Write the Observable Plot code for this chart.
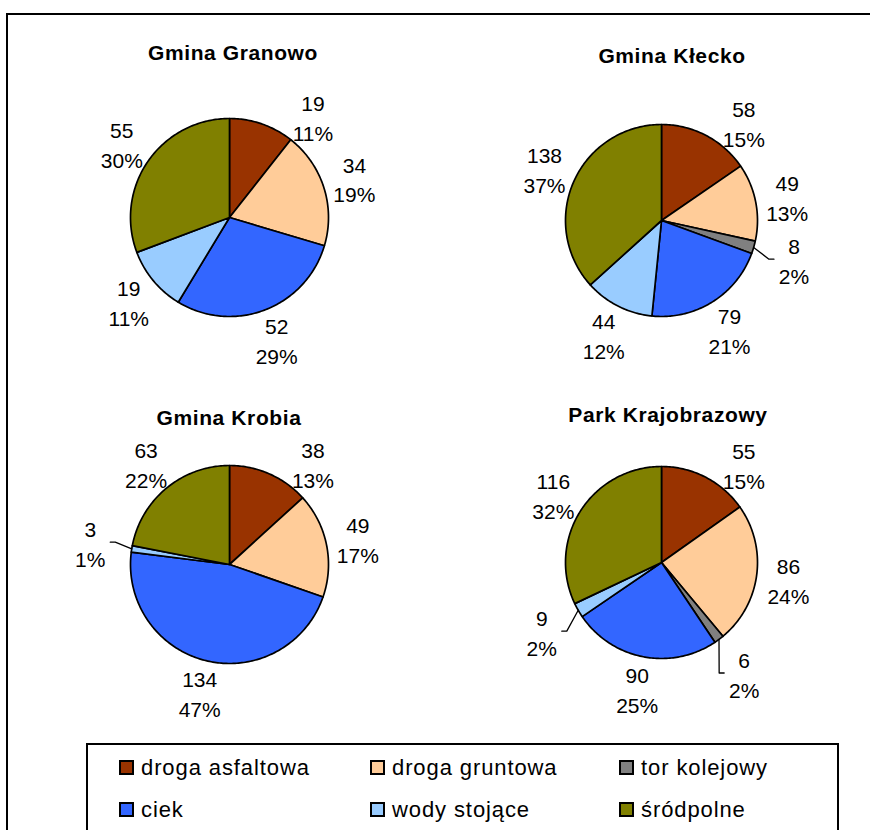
<!DOCTYPE html>
<html><head><meta charset="utf-8">
<script src="https://cdn.jsdelivr.net/npm/d3@7"></script>
<script src="https://cdn.jsdelivr.net/npm/@observablehq/plot@0.6"></script>
<style>
body{margin:0;background:#fff;font-family:Arial,"Liberation Sans",sans-serif;}
#root{position:relative;width:870px;height:830px;overflow:hidden;background:#fff;}
.frame{position:absolute;left:6px;top:13px;width:900px;height:900px;border:2px solid #000;}
.title{position:absolute;font-weight:bold;font-size:21px;line-height:21px;white-space:nowrap;transform:translateX(-50%);letter-spacing:0.6px;color:#000;}
.pie{position:absolute;}
.legend{position:absolute;left:86px;top:743px;width:749px;height:200px;border:2px solid #000;background:#fff;}
.item{position:absolute;font-size:22px;line-height:22px;color:#000;white-space:nowrap;letter-spacing:0.9px;}
.sw{position:absolute;width:11px;height:11px;border:2px solid #000;}
</style>
</head><body><div id="root"><div class="frame"></div></div>
<script>
const categories = ["droga asfaltowa","droga gruntowa","tor kolejowy","ciek","wody stojące","śródpolne"];
const colors = ["#993300","#FFCC99","#808080","#3366FF","#99CCFF","#808000"];
const regions = ["Gmina Granowo","Gmina Kłecko","Gmina Krobia","Park Krajobrazowy"];
const valuesGranowo = [19,34,0,52,19,55];
const valuesKlecko  = [58,49,8,79,44,138];
const valuesKrobia  = [38,49,0,134,3,63];
const valuesPark    = [55,86,6,90,9,116];
const percentGranowo = [11,19,0,29,11,30];
const percentKlecko  = [15,13,2,21,12,37];
const percentKrobia  = [13,17,0,47,1,22];
const percentPark    = [15,24,2,25,2,32];

const seriesValues = [valuesGranowo, valuesKlecko, valuesKrobia, valuesPark];
const seriesPercent = [percentGranowo, percentKlecko, percentKrobia, percentPark];
// layout (pixels): pie centre, radius, title centre & baseline
const layout = [
  {cx:229, cy:217, r:99, tx:233, tb:60},
  {cx:661, cy:220, r:96, tx:672, tb:63},
  {cx:229, cy:564, r:99, tx:229, tb:425},
  {cx:661, cy:562, r:96, tx:668, tb:422}
];
const W = 400, H = 330;
const root = document.getElementById("root");

function piePlot(values, pcts, r) {
  const total = d3.sum(values);
  const polys = [], labels = [], leaders = [];
  let acc = 0;
  values.forEach((v, i) => {
    if (v <= 0) return;
    const cat = categories[i];
    const a0 = acc / total * 2 * Math.PI, a1 = (acc + v) / total * 2 * Math.PI;
    acc += v;
    const n = Math.max(2, Math.ceil((a1 - a0) / (Math.PI / 180)));
    polys.push({cat, x: 0, y: 0});
    for (let k = 0; k <= n; k++) {
      const t = a0 + (a1 - a0) * k / n;
      polys.push({cat, x: Math.sin(t), y: Math.cos(t)});
    }
    polys.push({cat, x: 0, y: 0});
    const am = (a0 + a1) / 2;
    const small = pcts[i] < 3;
    const D = (r + (small ? 42 : 32)) / r;
    let lx = Math.sin(am) * D, ly = Math.cos(am) * D;
    const maxY = (r + 2) / r;
    if (ly > maxY) { ly = maxY; lx = Math.sign(lx || 1) * Math.sqrt(Math.max(0, D * D - ly * ly)); }
    labels.push({x: lx, y: ly, text: v + "\n" + pcts[i] + "%"});
    if (small) {
      const s = Math.sign(lx);
      leaders.push({id: i, x: Math.sin(am), y: Math.cos(am)});
      leaders.push({id: i, x: lx - s * 25 / r, y: ly});
      leaders.push({id: i, x: lx - s * 20 / r, y: ly});
    }
  });
  return Plot.plot({
    width: W, height: H, margin: 0,
    style: {background: "transparent", overflow: "visible"},
    x: {domain: [-W / 2 / r, W / 2 / r], axis: null},
    y: {domain: [-H / 2 / r, H / 2 / r], axis: null},
    color: {domain: categories, range: colors},
    marks: [
      Plot.line(polys, {x: "x", y: "y", z: "cat", fill: "cat", stroke: "#000", strokeWidth: 1.7, strokeLinejoin: "round", curve: "linear"}),
      Plot.line(leaders, {x: "x", y: "y", z: "id", stroke: "#000", strokeWidth: 1.3}),
      Plot.text(labels, {x: "x", y: "y", text: "text", fontSize: 21, lineHeight: 30 / 21, fill: "#000", fontFamily: "Arial, 'Liberation Sans', sans-serif", textAnchor: "middle", lineAnchor: "middle"})
    ]
  });
}

regions.forEach((name, k) => {
  const L = layout[k];
  const svg = piePlot(seriesValues[k], seriesPercent[k], L.r);
  const wrap = document.createElement("div");
  wrap.className = "pie";
  wrap.style.left = (L.cx - W / 2) + "px";
  wrap.style.top = (L.cy - H / 2) + "px";
  wrap.appendChild(svg);
  root.appendChild(wrap);
  const t = document.createElement("div");
  t.className = "title";
  t.textContent = name;
  t.style.left = L.tx + "px";
  t.style.top = (L.tb - 17.8) + "px";
  root.appendChild(t);
});

const legend = document.createElement("div");
legend.className = "legend";
root.appendChild(legend);
const colX = [31, 282, 531];
const rowY = [15, 57];
categories.forEach((c, i) => {
  const col = i % 3, row = Math.floor(i / 3);
  const sw = document.createElement("div");
  sw.className = "sw";
  sw.style.left = colX[col] + "px";
  sw.style.top = rowY[row] + "px";
  sw.style.background = colors[i];
  legend.appendChild(sw);
  const it = document.createElement("div");
  it.className = "item";
  it.textContent = c;
  it.style.left = (colX[col] + 22) + "px";
  it.style.top = (rowY[row] - 3) + "px";
  legend.appendChild(it);
});
</script></body></html>
